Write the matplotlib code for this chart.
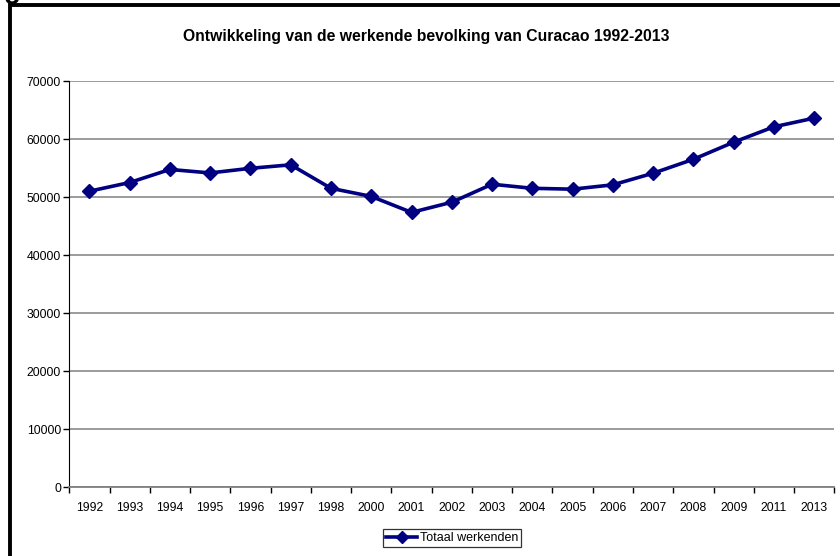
import matplotlib
matplotlib.use("Agg")
from matplotlib import pyplot as plt
from matplotlib.patches import Rectangle

plt.rcParams["font.family"] = ["Liberation Sans", "DejaVu Sans"]

# data
jaren = ["1992", "1993", "1994", "1995", "1996", "1997", "1998", "2000", "2001", "2002",
		 "2003", "2004", "2005", "2006", "2007", "2008", "2009", "2011", "2013"]
totaal_werkenden = [51000, 52500, 54750, 54150, 54950, 55550, 51500, 50100, 47350, 49100,
					52200, 51500, 51350, 52100, 54100, 56500, 59450, 62100, 63600]
y_ticks = [0, 10000, 20000, 30000, 40000, 50000, 60000, 70000]

titel = "Ontwikkeling van de werkende bevolking van Curacao 1992-2013"
reeks_naam = "Totaal werkenden"

fig = plt.figure(figsize=(8.4, 5.56), dpi=100)
ax = fig.add_axes([0.0825, 0.1241, 0.9107, 0.7302])

x = list(range(len(jaren)))
ax.plot(x, totaal_werkenden, color="#000080", linewidth=2.6, marker="D", markersize=7.5,
		label=reeks_naam, zorder=3)

ax.set_xlim(-0.5, len(jaren) - 0.5)
ax.set_ylim(0, 70000)
ax.set_yticks(y_ticks)
ax.set_yticklabels([str(v) for v in y_ticks])
ax.yaxis.grid(True, color="#808080", linewidth=1.1)
ax.set_axisbelow(True)

# category ticks sit between the labels, like in Excel
ax.set_xticks([i - 0.5 for i in range(len(jaren) + 1)])
ax.set_xticklabels([])
ax.set_xticks(x, minor=True)
ax.set_xticklabels(jaren, minor=True)
ax.tick_params(axis="x", which="major", length=4, width=1, color="black")
ax.tick_params(axis="x", which="minor", length=0, pad=11, labelsize=8.8)
ax.tick_params(axis="y", length=4, width=1, pad=2, labelsize=8.8)

ax.spines["top"].set_visible(False)
ax.spines["right"].set_visible(False)
ax.spines["left"].set_color("black")
ax.spines["bottom"].set_color("#808080")
ax.spines["bottom"].set_linewidth(1.3)

fig.text(0.508, 1 - 36 / 556, titel, ha="center", va="center", fontsize=11.3, fontweight="bold")

leg = fig.legend(loc="center", bbox_to_anchor=(452 / 840, 1 - 538 / 556), fontsize=9,
				 frameon=True, fancybox=False, handlelength=2.5, handletextpad=0.2,
				 borderpad=0.25, markerscale=0.8)
leg.get_frame().set_edgecolor("black")
leg.get_frame().set_linewidth(0.9)

# outer chart border, only the left and top edge are visible in the crop
fig.patches.append(Rectangle((10 / 840, -0.1), 1.2, 1.1 - 5 / 556, transform=fig.transFigure,
							 fill=False, edgecolor="black", linewidth=2.8))

# cut-off letter of the document text above the chart, only its tail shows
fig.text(4 / 840, 1 + 2 / 556, "g", fontsize=20, fontweight="bold", ha="left", va="baseline")

fig.savefig("out.png", dpi=100)
